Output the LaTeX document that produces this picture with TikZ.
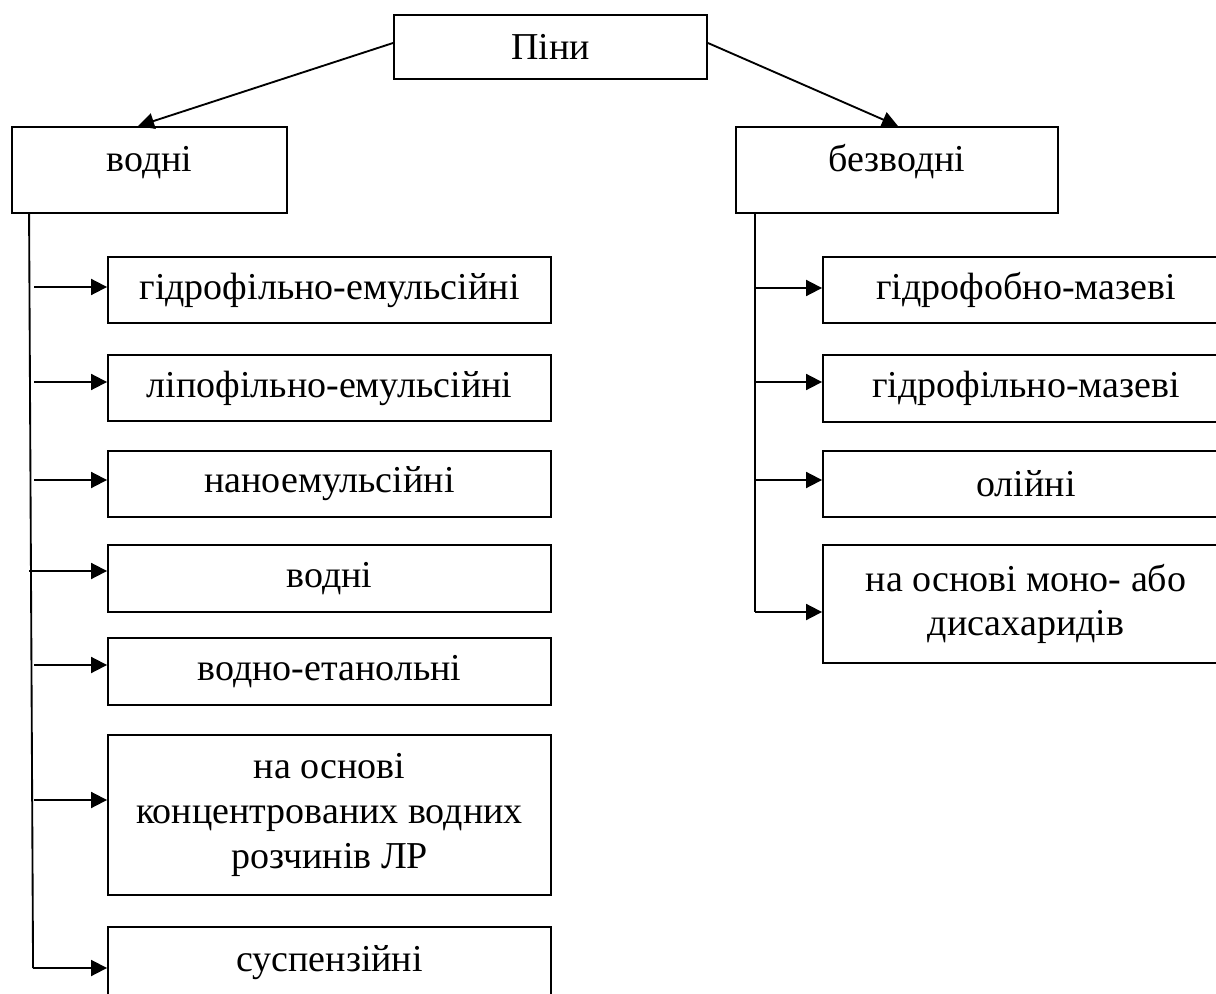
\documentclass[tikz,border=0pt]{standalone}
\usepackage{fontspec}
\setmainfont{Liberation Serif}
\usetikzlibrary{arrows.meta,calc}
\tikzset{
  box/.style={draw, line width=1.4pt, rectangle, inner sep=0pt, align=center,
    font=\fontsize{28.5}{33.5}\selectfont},
  sz/.style 2 args={minimum width=#1*0.75pt, minimum height=#2*0.75pt},
  upper/.style={text height=10pt, text depth=7.4pt},
  conn/.style={line width=1.4pt, -{Triangle[length=12pt,width=12pt]}},
  trunk/.style={line width=1.4pt}}
\begin{document}
\begin{tikzpicture}[x=0.75pt,y=-0.75pt]
\useasboundingbox (0,0) rectangle (1216,994);

% top level
\node[box, sz={313}{64}] (pini) at (550.5,47) {Піни};
\node[box, upper, sz={275}{86}] (vodni) at (149.5,170) {водні};
\node[box, upper, sz={322}{86}] (bezv) at (897,170) {безводні};

\draw[conn] ($(pini.west)+(0,-4)$) -- ($(vodni.north west)+(127,0)$);
\draw[conn] ($(pini.east)+(0,-4)$) -- ($(bezv.north)+(1,0)$);

% left column
\node[box, sz={443}{66}]  (l1) at (329.5,290)   {гідрофільно-емульсійні};
\node[box, sz={443}{66}]  (l2) at (329.5,388)   {ліпофільно-емульсійні};
\node[box, sz={443}{66}]  (l3) at (329.5,484)   {наноемульсійні};
\node[box, sz={443}{67}]  (l4) at (329.5,578.5) {водні};
\node[box, sz={443}{67}]  (l5) at (329.5,671.5) {водно-етанольні};
\node[box, sz={443}{160}] (l6) at (329.5,815)   {на основі\\концентрованих водних\\розчинів ЛР};
\node[box, sz={443}{72}]  (l7) at (329.5,963)   {суспензійні};

\coordinate (lt) at ($(vodni.south west)+(18,0)$);
\coordinate (lb) at ($(l7.west)+(-74,5)$);
\draw[trunk] (lt) -- (lb);

\draw[conn] ($(l1.west)+(-73,-3)$)   -- ($(l1.west)+(0,-3)$);
\draw[conn] ($(l2.west)+(-73,-6)$)   -- ($(l2.west)+(0,-6)$);
\draw[conn] ($(l3.west)+(-73,-4)$)   -- ($(l3.west)+(0,-4)$);
\draw[conn] ($(l4.west)+(-78,-7.5)$) -- ($(l4.west)+(0,-7.5)$);
\draw[conn] ($(l5.west)+(-73,-6.5)$) -- ($(l5.west)+(0,-6.5)$);
\draw[conn] ($(l6.west)+(-73,-15)$)  -- ($(l6.west)+(0,-15)$);
\draw[conn] (lb) -- ($(l7.west)+(0,5)$);

% right column
\node[box, sz={406}{66}]  (r1) at (1026,290)   {гідрофобно-мазеві};
\node[box, sz={406}{67}]  (r2) at (1026,388.5) {гідрофільно-мазеві};
\node[box, sz={406}{66}]  (r3) at (1026,484)   {олійні};
\node[box, sz={406}{118}] (r4) at (1026,604)   {на основі моно- або\\дисахаридів};

\coordinate (rt) at ($(bezv.south west)+(20,0)$);
\coordinate (rb) at ($(r4.west)+(-67,8)$);
\draw[trunk] (rt) -- (rb);

\draw[conn] ($(r1.west)+(-67,-2)$)   -- ($(r1.west)+(0,-2)$);
\draw[conn] ($(r2.west)+(-67,-6.5)$) -- ($(r2.west)+(0,-6.5)$);
\draw[conn] ($(r3.west)+(-67,-4)$)   -- ($(r3.west)+(0,-4)$);
\draw[conn] (rb) -- ($(r4.west)+(0,8)$);
\end{tikzpicture}
\end{document}
